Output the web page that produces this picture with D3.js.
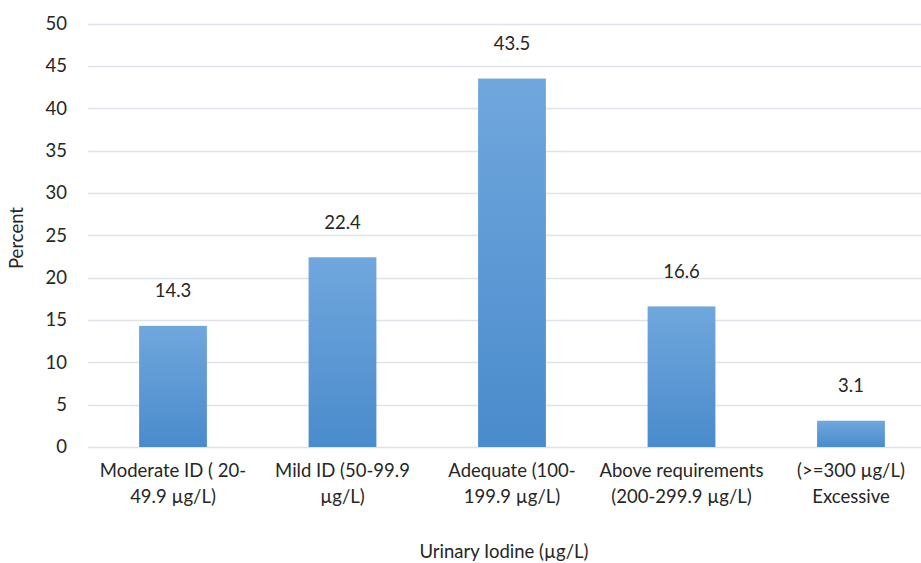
<!DOCTYPE html>
<html><head><meta charset="utf-8">
<script src="https://cdn.jsdelivr.net/npm/d3@7"></script>
<style>body{margin:0;background:#fff}svg{display:block}text{font-family:Lato,"Open Sans",sans-serif;fill:#262626}</style>
</head><body><svg id="c" width="921" height="563"></svg>
<script>
const categories = [["Moderate ID ( 20-","49.9 µg/L)"],["Mild ID (50-99.9","µg/L)"],["Adequate (100-","199.9 µg/L)"],["Above requirements","(200-299.9 µg/L)"],["(>=300 µg/L)","Excessive"]];
const values = [14.3, 22.4, 43.5, 16.6, 3.1];
const yTicks = [0,5,10,15,20,25,30,35,40,45,50];
const xTitle = "Urinary Iodine (µg/L)";
const yTitle = "Percent";

const svg = d3.select("#c");
const pL = 88.25, pR = 935.75, pT = 23.5, pB = 447;
const x = d3.scaleBand().domain(d3.range(values.length)).range([pL,pR]).paddingInner(0.6).paddingOuter(0.3);
const y = d3.scaleLinear().domain([0,50]).range([pB,pT]);

const defs = svg.append("defs");
const g = defs.append("linearGradient").attr("id","bg").attr("x1",0).attr("y1",0).attr("x2",0).attr("y2",1);
g.append("stop").attr("offset","0%").attr("stop-color","#70a7dd");
g.append("stop").attr("offset","100%").attr("stop-color","#4a8bcc");

// gridlines
svg.append("g").selectAll("line").data(yTicks).join("line")
  .attr("x1",pL).attr("x2",921).attr("y1",d=>Math.round(y(d))+0.5).attr("y2",d=>Math.round(y(d))+0.5)
  .attr("stroke","#dfe2e8").attr("stroke-width",1.3);

// y tick labels
svg.append("g").selectAll("text").data(yTicks).join("text")
  .attr("x",67).attr("y",d=>y(d)).attr("dy","0.35em").attr("text-anchor","end")
  .style("font-size","18.5px").text(d=>d);

// bars
svg.append("g").selectAll("rect").data(values).join("rect")
  .attr("x",(d,i)=>x(i)).attr("width",x.bandwidth())
  .attr("y",d=>y(d)).attr("height",d=>pB-y(d)).attr("fill","url(#bg)");

// value labels
svg.append("g").selectAll("text").data(values).join("text")
  .attr("x",(d,i)=>x(i)+x.bandwidth()/2).attr("y",d=>y(d)-35).attr("dy","0.35em")
  .attr("text-anchor","middle").style("font-size","18.5px").text(d=>d.toFixed(1));

// category labels
const cl = svg.append("g").selectAll("text").data(categories).join("text")
  .attr("text-anchor","middle").style("font-size","18.5px");
cl.each(function(lines,i){
  const t = d3.select(this);
  lines.forEach((l,k)=>t.append("tspan").attr("x",x(i)+x.bandwidth()/2).attr("y",471+k*26).attr("dy","0.35em").text(l));
});

// axis titles
svg.append("text").attr("x",504).attr("y",552).attr("dy","0.35em").attr("text-anchor","middle").style("font-size","18.5px").text(xTitle);
svg.append("text").attr("transform","translate(17,238) rotate(-90)").attr("dy","0.35em").attr("text-anchor","middle").style("font-size","18.5px").text(yTitle);
</script></body></html>
